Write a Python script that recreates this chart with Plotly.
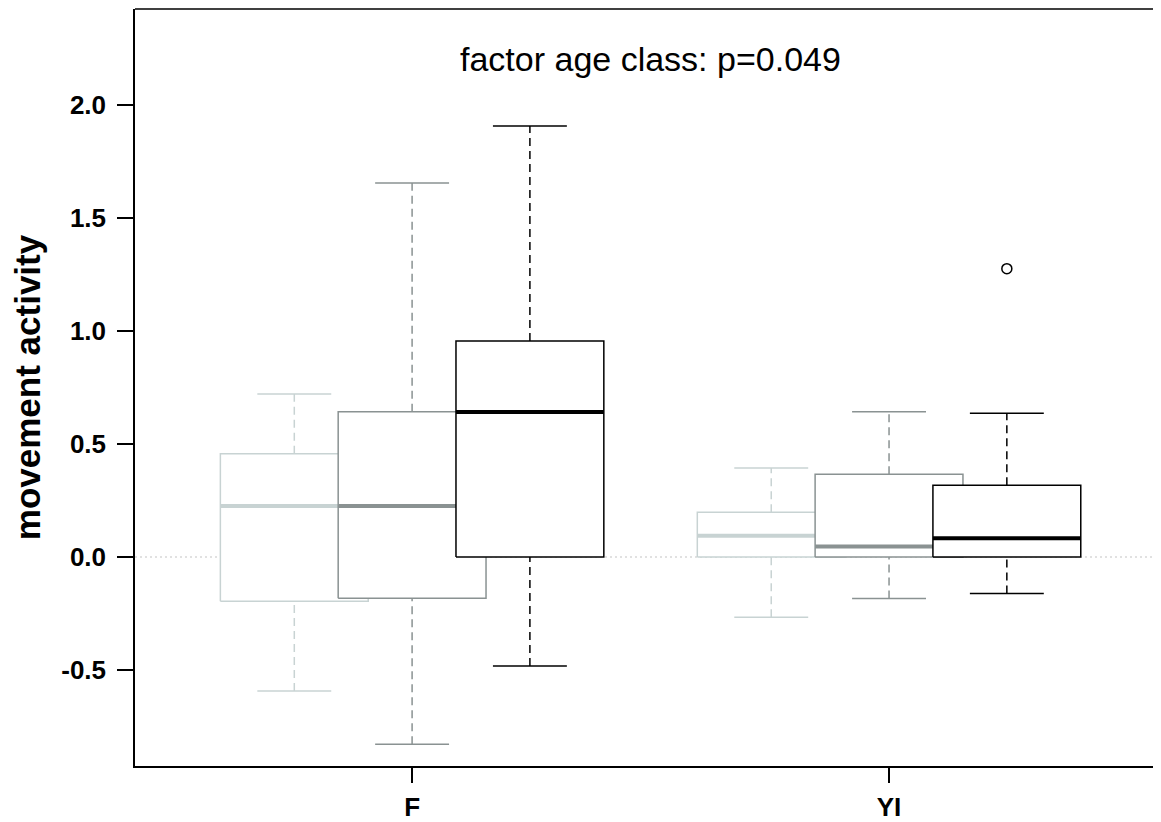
import plotly.graph_objects as go

# ---- data ----
groups = ["F", "YI"]
series_names = ["class 1", "class 2", "class 3"]
series_colors = ["#c8d3d3", "#8a9292", "#000000"]

# per series: values for [F, YI]
lower_whisker = [[-0.593, -0.267], [-0.829, -0.184], [-0.482, -0.162]]
q1 = [[-0.196, 0.0], [-0.183, 0.0], [0.0, 0.0]]
median = [[0.226, 0.094], [0.226, 0.046], [0.642, 0.083]]
q3 = [[0.457, 0.198], [0.643, 0.366], [0.956, 0.317]]
upper_whisker = [[0.721, 0.394], [1.655, 0.643], [1.907, 0.636]]
outliers = [[[], []], [[], []], [[], [1.276]]]

y_ticks = [-0.5, 0.0, 0.5, 1.0, 1.5, 2.0]
y_tick_labels = ["-0.5", "0.0", "0.5", "1.0", "1.5", "2.0"]
annotation_text = "factor age class: p=0.049"

# ---- layout constants ----
offsets = [-0.247, 0.0, 0.247]
half_w = 0.155
cap_half = 0.0775

fig = go.Figure()

for gi, g in enumerate(groups):
    gx = gi + 1
    for si in range(3):
        c = series_colors[si]
        xc = gx + offsets[si]
        lw, uw = lower_whisker[si][gi], upper_whisker[si][gi]
        a, m, b = q1[si][gi], median[si][gi], q3[si][gi]
        # dashed whiskers
        fig.add_trace(go.Scatter(
            x=[xc, xc, None, xc, xc], y=[lw, a, None, b, uw],
            mode="lines", line=dict(color=c, width=1.5, dash="8px,5px"),
            hoverinfo="skip", showlegend=False))
        # caps
        fig.add_trace(go.Scatter(
            x=[xc - cap_half, xc + cap_half, None, xc - cap_half, xc + cap_half],
            y=[lw, lw, None, uw, uw],
            mode="lines", line=dict(color=c, width=1.5),
            hoverinfo="skip", showlegend=False))
        # box
        fig.add_trace(go.Scatter(
            x=[xc - half_w, xc + half_w, xc + half_w, xc - half_w, xc - half_w],
            y=[a, a, b, b, a],
            mode="lines", fill="toself", fillcolor="white",
            line=dict(color=c, width=1.5),
            name=f"{g} {series_names[si]}", hoverinfo="skip", showlegend=False))
        # median
        fig.add_trace(go.Scatter(
            x=[xc - half_w, xc + half_w], y=[m, m],
            mode="lines", line=dict(color=c, width=4),
            hoverinfo="skip", showlegend=False))
        # outliers
        if outliers[si][gi]:
            fig.add_trace(go.Scatter(
                x=[xc] * len(outliers[si][gi]), y=outliers[si][gi],
                mode="markers",
                marker=dict(symbol="circle-open", size=10, color=c,
                            line=dict(width=1.5, color=c)),
                hoverinfo="skip", showlegend=False))

# zero reference line (dotted, behind boxes)
fig.add_shape(type="line", xref="paper", yref="y", x0=0, x1=1, y0=0, y1=0,
              line=dict(color="#c4c4c4", width=1.2, dash="2px,3px"), layer="below")
# top border
fig.add_shape(type="line", xref="paper", yref="paper", x0=0, x1=1, y0=1, y1=1,
              line=dict(color="black", width=1.5))

fig.add_annotation(x=1.499, y=2.204, xref="x", yref="y", text=annotation_text,
                   showarrow=False,
                   font=dict(family="Liberation Sans, Arial", size=34, color="black"))

tick_font = dict(family="Liberation Sans, Arial", size=26, color="black", weight="bold")

fig.update_layout(
    width=1161, height=822,
    margin=dict(l=127, r=0, t=1, b=64, autoexpand=False),
    paper_bgcolor="white", plot_bgcolor="white",
    xaxis=dict(
        range=[0.419, 2.587], tickmode="array", tickvals=[1, 2], ticktext=groups,
        showgrid=False, zeroline=False, showline=True, linecolor="black", linewidth=1.5,
        ticks="outside", ticklen=15, tickwidth=1.5, tickcolor="black",
        tickfont=tick_font, ticklabelstandoff=2, automargin=False),
    yaxis=dict(
        range=[-0.925, 2.425], tickmode="array", tickvals=y_ticks, ticktext=y_tick_labels,
        showgrid=False, zeroline=False, showline=True, linecolor="black", linewidth=1.5,
        ticks="outside", ticklen=16, tickwidth=1.5, tickcolor="black",
        tickfont=tick_font, ticklabelstandoff=6, automargin=False,
        title=dict(text="movement activity", standoff=18,
                   font=dict(family="Liberation Sans, Arial", size=35, color="black",
                             weight="bold"))),
    showlegend=False,
)

fig.write_html("out.html")
